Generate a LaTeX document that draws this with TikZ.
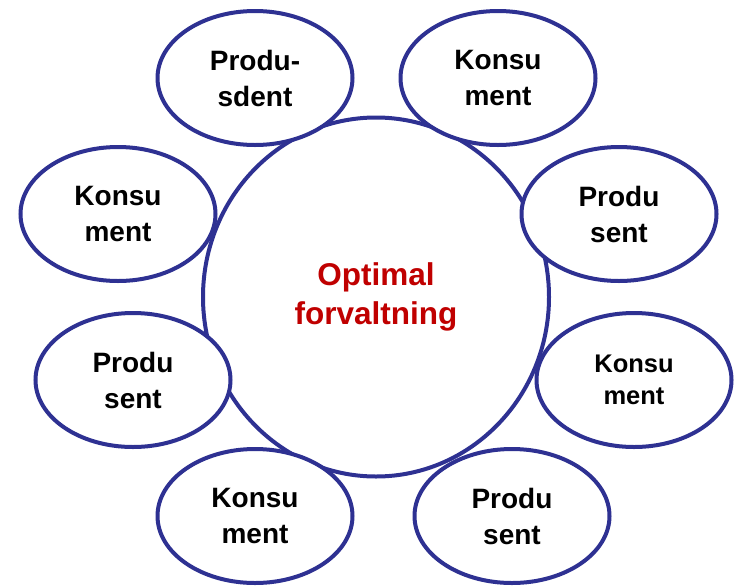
\documentclass[tikz,border=0pt]{standalone}
\usepackage{fontspec}
\setmainfont{Liberation Sans}
\usetikzlibrary{shapes.geometric}
\definecolor{navy}{HTML}{2E3192}
\definecolor{darkred}{HTML}{C00000}
\begin{document}
\begin{tikzpicture}[x=1pt,y=-1pt,
  small/.style={ellipse, draw=navy, line width=4pt, fill=white,
    minimum width=195pt, minimum height=134pt, inner sep=0pt, align=center,
    font=\bfseries\fontsize{28}{36}\selectfont},
  big/.style={ellipse, draw=navy, line width=4pt, fill=white,
    minimum width=346pt, minimum height=359pt, inner sep=0pt, align=center,
    text=darkred, font=\bfseries\fontsize{31.5}{39}\selectfont}]
\useasboundingbox (0,0) rectangle (736,587);
\node[big] (c) at (376,297) {Optimal\\forvaltning};
\node[small] (n1) at (255,78) {Produ-\\sdent};
\node[small] (n2) at (498,78) {Konsu\\ment};
\node[small] (n3) at (619,214) {Produ\\sent};
\node[small, font=\bfseries\fontsize{25.5}{32}\selectfont] (n4) at (634,380) {Konsu\\ment};
\node[small] (n5) at (512,516) {Produ\\sent};
\node[small] (n6) at (255,516) {Konsu\\ment};
\node[small] (n7) at (133,380) {Produ\\sent};
\node[small] (n8) at (118,214) {Konsu\\ment};
\end{tikzpicture}
\end{document}
